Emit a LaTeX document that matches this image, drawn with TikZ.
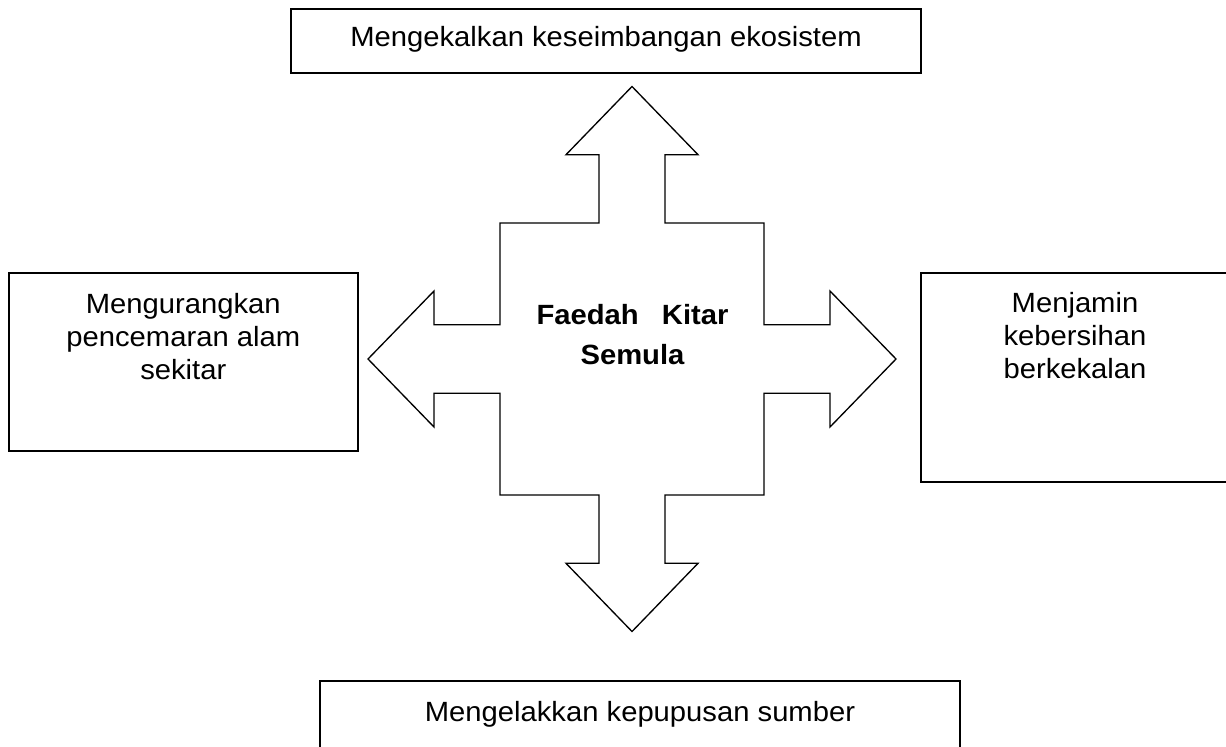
\documentclass[tikz,border=0pt]{standalone}
\usepackage{fontspec}
\setmainfont{Liberation Sans}[FakeStretch=1.05]
\usetikzlibrary{fit}

\tikzset{
  box/.style={draw, line width=1.5pt, inner sep=0pt},
  boxtext/.style={anchor=north, inner sep=0pt, align=center, font=\fontsize{20.86pt}{24.5pt}\selectfont},
  titletext/.style={anchor=north, inner sep=0pt, align=center, font=\bfseries\fontsize{20.86pt}{30pt}\selectfont}
}

\begin{document}
\begin{tikzpicture}[x=0.75pt,y=0.75pt,yscale=-1,xscale=1]
	\useasboundingbox (0,0) rectangle (1226,746);
	
	%Shape: Cross Arrow
	\draw [line width=1pt]  (632,86.5) -- (698,154.7) -- (665,154.7) -- (665,223) -- (764,223) -- (764,324.7) -- (830,324.7) -- (830,291) -- (896,359) -- (830,427) -- (830,393.3) -- (764,393.3) -- (764,495) -- (665,495) -- (665,563.3) -- (698,563.3) -- (632,631.5) -- (566,563.3) -- (599,563.3) -- (599,495) -- (500,495) -- (500,393.3) -- (434,393.3) -- (434,427) -- (368,359) -- (434,291) -- (434,324.7) -- (500,324.7) -- (500,223) -- (599,223) -- (599,154.7) -- (566,154.7) -- cycle ;
	
	%Rectangles
	\node [box, fit={(291,9) (921,73)}] (top) {};
	\node [box, fit={(8.6,273) (358,451)}] (left) {};
	\node [box, fit={(921,273) (1229,482)}] (right) {};
	\node [box, fit={(320,681) (960,760)}] (bottom) {};
	
	\node [titletext] (title) at (632.5,304) {\makebox[144pt][s]{Faedah Kitar}\\Semula};
	
	\node [boxtext] (toptext) at (606,26.5) {Mengekalkan keseimbangan ekosistem};
	
	\node [boxtext] (lefttext) at (183.3,293.5) {Mengurangkan\\pencemaran alam\\sekitar};
	
	\node [boxtext] (righttext) at (1075,292.5) {Menjamin\\kebersihan\\berkekalan};
	
	\node [boxtext] (bottomtext) at (640,701) {Mengelakkan kepupusan sumber};
	
\end{tikzpicture}
\end{document}
